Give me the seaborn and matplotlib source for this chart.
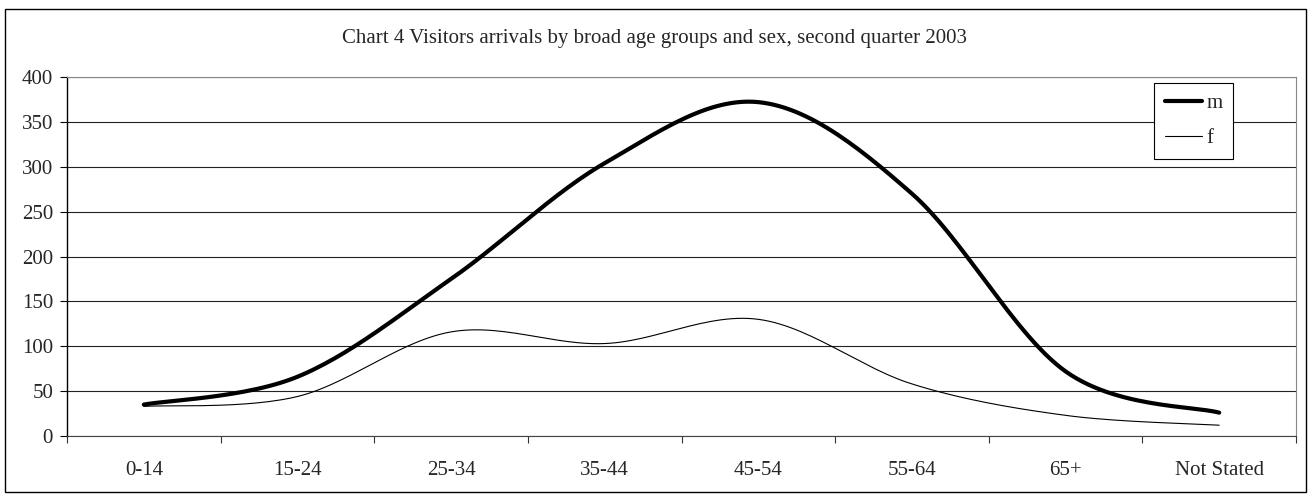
import numpy as np
import pandas as pd
import seaborn as sns
import matplotlib.pyplot as plt
from matplotlib.patches import Rectangle

age_groups = ['0-14', '15-24', '25-34', '35-44', '45-54', '55-64', '65+', 'Not Stated']
male = [35, 66, 175, 304, 372, 270, 72, 26]
female = [33, 44, 116, 103, 130, 58, 23, 12]
y_ticks = [0, 50, 100, 150, 200, 250, 300, 350, 400]
title = 'Chart 4 Visitors arrivals by broad age groups and sex, second quarter 2003'


def smooth(values, steps=30):
    # Excel style smoothed line: bezier through points, catmull-rom control points
    p = np.column_stack([np.arange(len(values), dtype=float), np.asarray(values, float)])
    xs, ys = [], []
    for i in range(len(p) - 1):
        p0 = p[max(i - 1, 0)]
        p1 = p[i]
        p2 = p[i + 1]
        p3 = p[min(i + 2, len(p) - 1)]
        c1 = p1 + (p2 - p0) / 6
        c2 = p2 - (p3 - p1) / 6
        t = np.linspace(0, 1, steps)[:, None]
        if i > 0:
            t = t[1:]
        b = (1 - t) ** 3 * p1 + 3 * (1 - t) ** 2 * t * c1 + 3 * (1 - t) * t ** 2 * c2 + t ** 3 * p2
        xs.extend(b[:, 0])
        ys.extend(b[:, 1])
    return pd.DataFrame({'pos': xs, 'value': ys})


sns.set_style('white')
plt.rcParams['font.family'] = ['Liberation Serif', 'DejaVu Serif']

fig = plt.figure(figsize=(13.09, 4.94), dpi=100)
ax = fig.add_axes([67 / 1309, 1 - 436 / 494, 1229 / 1309, 359 / 494])

sns.lineplot(data=smooth(male), x='pos', y='value', ax=ax, color='black',
             linewidth=3.0, estimator=None, label='m')
sns.lineplot(data=smooth(female), x='pos', y='value', ax=ax, color='black',
             linewidth=0.8, estimator=None, label='f')

ax.set_xlim(-0.5, len(age_groups) - 0.5)
ax.set_ylim(0, 400)
ax.set_yticks(y_ticks)
ax.set_yticklabels([str(v) for v in y_ticks], fontsize=15)
ax.set_xticks(np.arange(len(age_groups)))
ax.set_xticklabels(age_groups, fontsize=15)
ax.set_xticks(np.arange(len(age_groups) + 1) - 0.5, minor=True)
ax.tick_params(axis='x', which='major', bottom=True, length=0, pad=18)
ax.tick_params(axis='x', which='minor', bottom=True, length=5, width=0.8,
               direction='out', color='#333333')
ax.tick_params(axis='y', left=True, length=5, width=0.8, direction='out', color='black', pad=5)
ax.set_xlabel('')
ax.set_ylabel('')

ax.grid(axis='y', color='#222222', linewidth=0.8)
ax.set_axisbelow(True)
for side in ['top', 'right', 'left', 'bottom']:
    ax.spines[side].set_visible(True)
ax.spines['left'].set_color('black')
ax.spines['left'].set_linewidth(1.0)
ax.spines['bottom'].set_color('#444444')
ax.spines['top'].set_color('#888888')
ax.spines['right'].set_color('#888888')
ax.spines['top'].set_linewidth(0.8)
ax.spines['right'].set_linewidth(0.8)

leg = ax.legend(loc='upper right', bbox_to_anchor=((1233 - 67) / 1229, (436 - 83) / 359),
                frameon=True, fancybox=False, fontsize=15, handlelength=1.8,
                handletextpad=0.2, labelspacing=0.75, borderpad=0.5, borderaxespad=0)
leg.get_frame().set_edgecolor('black')
leg.get_frame().set_linewidth(0.8)
leg.get_frame().set_alpha(1)

fig.text(0.5, 1 - 38 / 494, title, ha='center', va='center', fontsize=15)
fig.patches.append(Rectangle((5 / 1309, 2 / 494), 1301 / 1309, 483 / 494, transform=fig.transFigure,
                             fill=False, edgecolor='black', linewidth=1.0))

fig.savefig('out.png', dpi=100)
